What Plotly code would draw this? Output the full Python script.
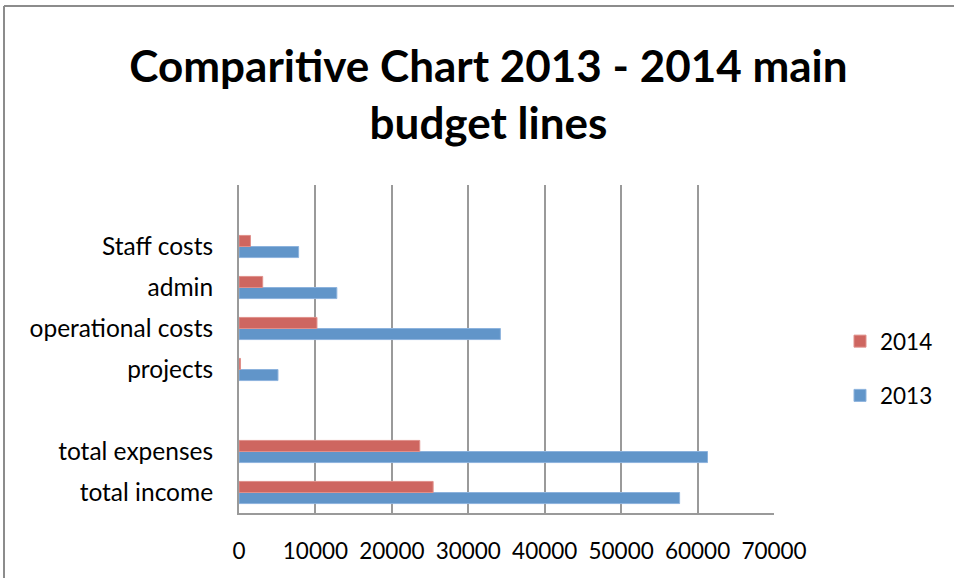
import plotly.graph_objects as go

categories = ["total income", "total expenses", " ", "projects",
              "operational costs", "admin", "Staff costs", "  "]
values_2013 = [57650, 61300, None, 5100, 34200, 12800, 7800, None]
values_2014 = [25400, 23650, None, 200, 10200, 3100, 1500, None]
x_ticks = [0, 10000, 20000, 30000, 40000, 50000, 60000, 70000]

W, H = 954, 578
ML, MR, MT, MB = 239, 180, 185, 65
pw, ph = W - ML - MR, H - MT - MB

fig = go.Figure()
fig.add_trace(go.Bar(y=categories, x=values_2013, name="2013", orientation="h",
                     marker=dict(color="#6195C9", line=dict(color="#8DB3DD", width=1)),
                     legendgroup="a", legendrank=2))
fig.add_trace(go.Bar(y=categories, x=values_2014, name="2014", orientation="h",
                     marker=dict(color="#CE6660", line=dict(color="#E0908B", width=1)),
                     legendgroup="b", legendrank=1))

font_family = "Lato, Carlito, Calibri, sans-serif"

def px2x(p):
    return (p - ML) / pw

def px2y(p):
    return 1 - (p - MT) / ph

fig.update_layout(
    width=W, height=H,
    margin=dict(l=ML, r=MR, t=MT, b=MB, autoexpand=False),
    paper_bgcolor="white", plot_bgcolor="white",
    barmode="group", bargap=0.46, bargroupgap=0,
    title=dict(text="<b>Comparitive Chart 2013 - 2014 main<br>budget lines</b>",
               x=0.512, xanchor="center", y=1 - 82 / H, yanchor="middle",
               font=dict(family=font_family, size=44, color="black")),
    font=dict(family=font_family, size=23, color="black"),
    legend=dict(traceorder="grouped", tracegroupgap=22,
                x=px2x(840), xanchor="left", y=px2y(320), yanchor="top",
                font=dict(size=22.5), bgcolor="rgba(0,0,0,0)"),
    xaxis=dict(range=[0, 70000], tickvals=x_ticks, ticktext=[str(v) for v in x_ticks],
               showgrid=True, gridcolor="#9A9A9A", gridwidth=2,
               showline=True, linecolor="#9A9A9A", linewidth=2,
               zeroline=False, ticks="", ticklabelstandoff=17, automargin=False,
               tickfont=dict(size=22.5)),
    yaxis=dict(type="category", categoryorder="array", categoryarray=categories,
               showgrid=False, showline=True, linecolor="#9A9A9A", linewidth=2,
               ticks="", ticklabelstandoff=19, automargin=False,
               tickfont=dict(size=24.5)),
    shapes=[
        dict(type="line", xref="paper", yref="paper",
             x0=px2x(4), x1=px2x(W + 5), y0=px2y(6), y1=px2y(6),
             line=dict(color="#8C8C8C", width=2)),
        dict(type="line", xref="paper", yref="paper",
             x0=px2x(4), x1=px2x(4), y0=px2y(6), y1=px2y(H + 5),
             line=dict(color="#8C8C8C", width=2)),
    ],
)

fig.write_html("out.html", config={"displayModeBar": False},
               post_script="document.body.style.margin='0';")
